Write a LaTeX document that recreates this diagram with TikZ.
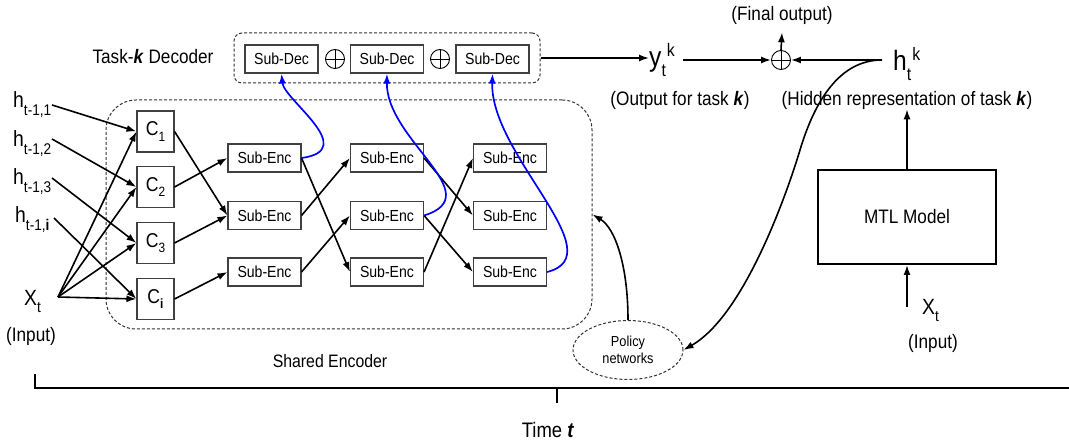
\documentclass[tikz,border=0pt]{standalone}
\usepackage{fontspec}
\setmainfont{Liberation Sans}[FakeStretch=0.88]
\usetikzlibrary{arrows.meta,shapes.geometric}
\newcommand{\fs}[1]{\fontsize{#1}{#1}\selectfont}
\newcommand{\bk}{\textbf{\textit{k}}}
\newcommand{\hlab}[1]{\fs{22}h\raisebox{-8pt}{\fs{15.5}#1}}
\newcommand{\clab}[1]{C\raisebox{-5.5pt}{\fs{13.5}#1}}
\begin{document}
\begin{tikzpicture}[x=1pt,y=-1pt,
  sbox/.style={draw=black!75, line width=1.1pt, minimum width=73pt, minimum height=28pt, inner sep=0pt, font=\fs{16}},
  cbox/.style={draw=black!75, line width=1.1pt, minimum width=37pt, minimum height=41pt, inner sep=0pt, font=\fs{20}},
  arr/.style={-{Latex[length=10pt,width=7pt]}, line width=1.6pt},
  barr/.style={arr, draw=blue, line width=1.7pt},
  dashbox/.style={draw=black!80, dash pattern=on 3pt off 2pt, line width=1pt},
  lab/.style={font=\fs{19.5}, inner sep=0pt},
  opl/.style={circle, draw, line width=0.9pt, minimum size=19pt, inner sep=0pt,
    path picture={\draw[line width=0.9pt] (path picture bounding box.north) -- (path picture bounding box.south)
      (path picture bounding box.west) -- (path picture bounding box.east);}}
]
\useasboundingbox (0,0) rectangle (1069,443);

% shared encoder frame
\node[dashbox, rounded corners=30pt, minimum width=486pt, minimum height=229pt] (enc) at (349,214.5) {};
% decoder frame
\node[dashbox, rounded corners=8pt, minimum width=306pt, minimum height=50pt] (dec) at (387,58) {};

% C boxes
\node[cbox] (c1) at (155.5,131.5) {\clab{1}};
\node[cbox] (c2) at (155.5,187) {\clab{2}};
\node[cbox] (c3) at (155.5,243) {\clab{3}};
\node[cbox] (ci) at (155.5,299) {\clab{\textbf{i}}};

% Sub-Enc
\node[sbox] (se11) at (264.5,158) {Sub-Enc};
\node[sbox] (se12) at (264.5,215.5) {Sub-Enc};
\node[sbox] (se13) at (264.5,272) {Sub-Enc};
\node[sbox] (se21) at (387,158) {Sub-Enc};
\node[sbox] (se22) at (387,215.5) {Sub-Enc};
\node[sbox] (se23) at (387,272) {Sub-Enc};
\node[sbox] (se31) at (510,158) {Sub-Enc};
\node[sbox] (se32) at (510,215.5) {Sub-Enc};
\node[sbox] (se33) at (510,272) {Sub-Enc};

% Sub-Dec
\node[sbox] (sd1) at (281.5,59) {Sub-Dec};
\node[sbox] (sd2) at (387,59) {Sub-Dec};
\node[sbox] (sd3) at (492.5,59) {Sub-Dec};
\node[opl] (op1) at (335,59) {};
\node[opl] (op2) at (440,59) {};

% left labels
\node[lab, anchor=base west] (h1) at (13,108) {\hlab{t-1,1}};
\node[lab, anchor=base west] (h2) at (13,147) {\hlab{t-1,2}};
\node[lab, anchor=base west] (h3) at (13,185) {\hlab{t-1,3}};
\node[lab, anchor=base west] (hi) at (15,223) {\hlab{t-1,\textbf{i}}};
\node[lab, anchor=base west] (xt) at (24,306) {\fs{22}X\raisebox{-7pt}{\fs{15.5}t}};
\node[lab] (in1) at (31,336) {(Input)};
\coordinate (h1o) at (52,105);
\coordinate (h2o) at (52,139);
\coordinate (h3o) at (52,178);
\coordinate (hio) at (54,218);
\coordinate (xo) at (58,297);

\node[lab] (task) at (153,57) {Task-\bk{} Decoder};
\node[lab, font=\fs{18}] (shared) at (330,361) {Shared Encoder};

% right part
\node[lab, anchor=base west] (yk) at (649,66.5) {\fs{28}y\raisebox{-10pt}{\fs{18}t}\raisebox{10pt}{\fs{18}\hspace{1pt}k}};
\node[lab] (yout) at (680,100) {(Output for task \bk)};
\node[opl, minimum size=19pt] (opf) at (781,60) {};
\node[lab] (final) at (782,15) {(Final output)};
\node[lab, anchor=base west] (hk) at (893,71) {\fs{28}h\raisebox{-10pt}{\fs{18}t}\raisebox{10pt}{\fs{18}\hspace{1pt}k}};
\node[lab] (hidden) at (907,100) {(Hidden representation of task \bk)};
\node[draw, line width=2pt, minimum width=178pt, minimum height=94pt, font=\fs{19.5}] (mtl) at (907,217) {MTL Model};
\node[lab, anchor=base west] (xt2) at (922,315) {\fs{22}X\raisebox{-7pt}{\fs{15.5}t}};
\node[lab] (in2) at (933,343) {(Input)};
\coordinate (xo2) at (907,307);
\coordinate (hs) at (882,60);

\node[dashbox, ellipse, minimum width=110pt, minimum height=59pt, inner sep=0pt, align=center, font=\fontsize{14.5}{17}\selectfont] (pol) at (628,350) {Policy\\networks};

% left arrows
\foreach \a/\b in {h1o/c1, h2o/c2, h3o/c3, hio/ci, xo/c1, xo/c2, xo/c3, xo/ci}
  \draw[arr] (\a) -- (\b.west);
\foreach \a/\b in {c1/se12, c2/se11, c3/se12, ci/se13, se11/se23, se12/se21, se13/se22, se21/se32, se22/se33, se23/se31}
  \draw[arr] (\a.east) -- (\b.west);

% blue curves
\draw[barr] (se11.east) .. controls (360,150) and (284,100) .. (sd1.south);
\draw[barr] (se22.east) .. controls (490,195) and (386,140) .. (sd2.south);
\draw[barr] (se33.east) .. controls (615,255) and (490,155) .. (sd3.south);

% outputs
\draw[arr] (dec.east) -- (dec.east -| yk.west);
\draw[arr] ([xshift=8pt]yk.east |- opf.west) -- (opf.west);
\draw[arr] (hs) -- (opf.east);
\draw[arr] (opf.north) -- ([yshift=-8pt]final.south);
\draw[arr] (mtl.north) -- (hidden.south -| mtl.north);
\draw[arr] (xo2) -- (mtl.south);
\draw[arr] (hs) .. controls (840,60) and (815,100) .. (800,150)
               .. controls (788,190) and (745,315) .. (pol.east);
\draw[arr] (pol.north) .. controls (628,265) and (615,228) .. (enc.east);

% time axis
\draw[line width=2.2pt] (35,374) -- (35,388) -- (1069,388);
\draw[line width=1.6pt] (557,388) -- (557,403);
\node[font=\fs{21}, inner sep=0pt] (time) at (548,430) {Time \textbf{\textit{t}}};
\end{tikzpicture}
\end{document}
